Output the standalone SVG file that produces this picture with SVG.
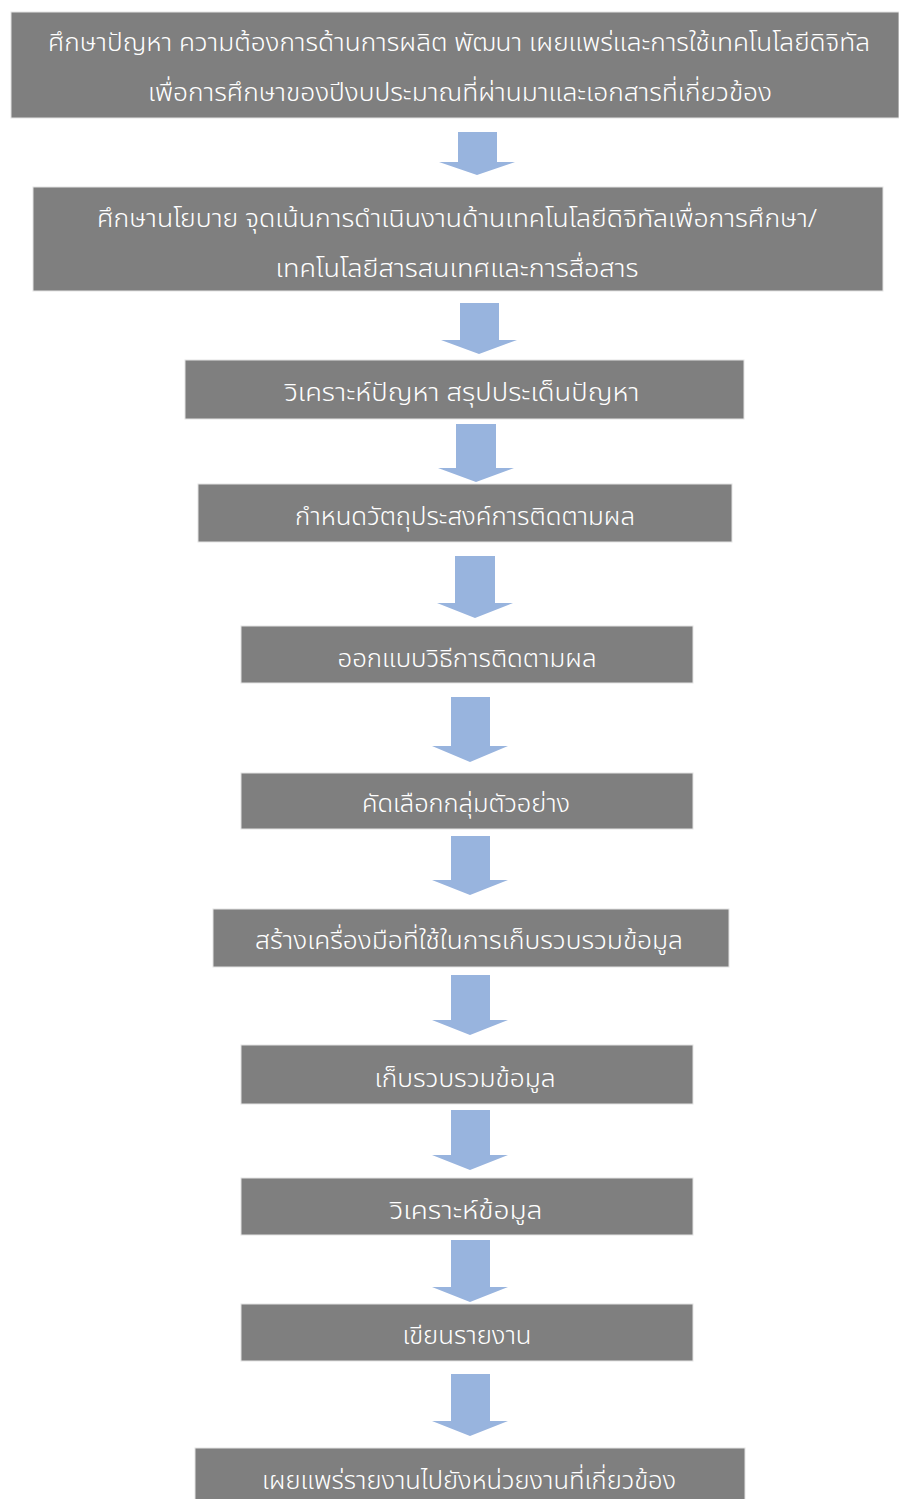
<svg xmlns="http://www.w3.org/2000/svg" width="899" height="1499" viewBox="0 0 899 1499">
<style>
.box{fill:#7f7f7f;stroke:#e4e4e4;stroke-width:1}
.t{fill:#ffffff;font-family:"Noto Sans Thai","Noto Sans","DejaVu Sans",sans-serif;font-size:25px;font-weight:300;text-anchor:middle}
.arr{fill:#98b4de}
</style>
<rect width="899" height="1499" fill="#ffffff"/>
<g id="connectors">
<path class="arr" d="M458,132 H497 V162 H515 L477,175 L439,162 H458 Z"/>
<path class="arr" d="M460,303 H499 V340 H517 L479,354 L441,340 H460 Z"/>
<path class="arr" d="M456,424 H496 V468 H514 L476,482 L438,468 H456 Z"/>
<path class="arr" d="M455,556 H495 V603 H513 L475,618 L437,603 H455 Z"/>
<path class="arr" d="M451,697 H490 V746 H508 L470,762 L432,746 H451 Z"/>
<path class="arr" d="M451,836 H490 V880 H508 L470,895 L432,880 H451 Z"/>
<path class="arr" d="M451,975 H490 V1020 H508 L470,1035 L432,1020 H451 Z"/>
<path class="arr" d="M451,1110 H490 V1155 H508 L470,1170 L432,1155 H451 Z"/>
<path class="arr" d="M451,1240 H490 V1287 H508 L470,1302 L432,1287 H451 Z"/>
<path class="arr" d="M451,1374 H490 V1421 H508 L470,1436 L432,1421 H451 Z"/>
</g>
<g id="n1"><rect class="box" x="11" y="12" width="888" height="106"/>
<text class="t" x="459" y="51" textLength="822" lengthAdjust="spacingAndGlyphs">ศึกษาปัญหา ความต้องการด้านการผลิต พัฒนา เผยแพร่และการใช้เทคโนโลยีดิจิทัล</text>
<text class="t" x="460" y="101" textLength="624" lengthAdjust="spacingAndGlyphs">เพื่อการศึกษาของปีงบประมาณที่ผ่านมาและเอกสารที่เกี่ยวข้อง</text></g>
<g id="n2"><rect class="box" x="33" y="187" width="850" height="104"/>
<text class="t" x="457" y="227" textLength="720" lengthAdjust="spacingAndGlyphs">ศึกษานโยบาย จุดเน้นการดำเนินงานด้านเทคโนโลยีดิจิทัลเพื่อการศึกษา/</text>
<text class="t" x="457" y="277" textLength="363" lengthAdjust="spacingAndGlyphs">เทคโนโลยีสารสนเทศและการสื่อสาร</text></g>
<g id="n3"><rect class="box" x="185" y="360" width="559" height="59"/>
<text class="t" x="462" y="401" textLength="355" lengthAdjust="spacingAndGlyphs">วิเคราะห์ปัญหา สรุปประเด็นปัญหา</text></g>
<g id="n4"><rect class="box" x="198" y="484" width="534" height="58"/>
<text class="t" x="465" y="525" textLength="340" lengthAdjust="spacingAndGlyphs">กำหนดวัตถุประสงค์การติดตามผล</text></g>
<g id="n5"><rect class="box" x="241" y="626" width="452" height="57"/>
<text class="t" x="467" y="667" textLength="259" lengthAdjust="spacingAndGlyphs">ออกแบบวิธีการติดตามผล</text></g>
<g id="n6"><rect class="box" x="241" y="773" width="452" height="56"/>
<text class="t" x="466" y="812" textLength="208" lengthAdjust="spacingAndGlyphs">คัดเลือกกลุ่มตัวอย่าง</text></g>
<g id="n7"><rect class="box" x="213" y="909" width="516" height="58"/>
<text class="t" x="469" y="949" textLength="428" lengthAdjust="spacingAndGlyphs">สร้างเครื่องมือที่ใช้ในการเก็บรวบรวมข้อมูล</text></g>
<g id="n8"><rect class="box" x="241" y="1045" width="452" height="59"/>
<text class="t" x="465" y="1087" textLength="181" lengthAdjust="spacingAndGlyphs">เก็บรวบรวมข้อมูล</text></g>
<g id="n9"><rect class="box" x="241" y="1178" width="452" height="57"/>
<text class="t" x="466" y="1219" textLength="153" lengthAdjust="spacingAndGlyphs">วิเคราะห์ข้อมูล</text></g>
<g id="n10"><rect class="box" x="241" y="1304" width="452" height="57"/>
<text class="t" x="467" y="1344" textLength="129" lengthAdjust="spacingAndGlyphs">เขียนรายงาน</text></g>
<g id="n11"><rect class="box" x="195" y="1448" width="550" height="52"/>
<text class="t" x="469" y="1489" textLength="414" lengthAdjust="spacingAndGlyphs">เผยแพร่รายงานไปยังหน่วยงานที่เกี่ยวข้อง</text></g>
</svg>
